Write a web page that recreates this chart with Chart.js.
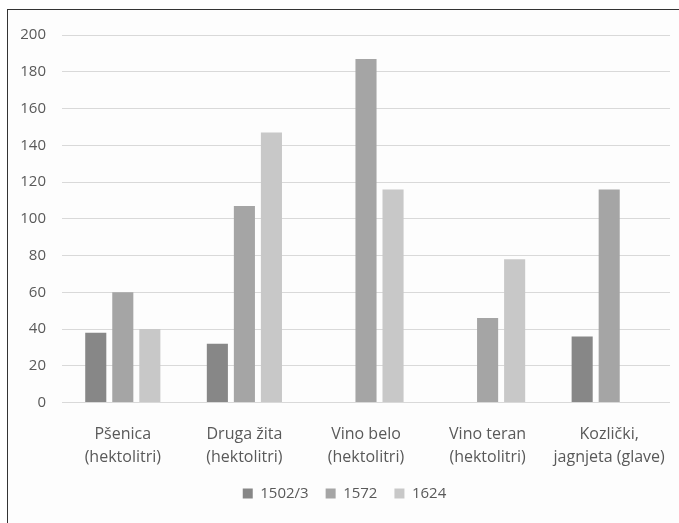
<!DOCTYPE html>
<html lang="hr">
<head>
<meta charset="UTF-8">
<title>Proizvodnja</title>
<style>
    body { margin: 0; background: #fff; }
    #frame {
        position: absolute;
        left: 7px;
        top: 9px;
        width: 672px;
        height: 514px;
        border-left: 1px solid #333;
        border-top: 1px solid #333;
        background: #fdfdfd;
    }
    #chart { display: block; }
</style>
</head>
<body>
<div id="frame">
    <canvas id="chart" width="672" height="514"></canvas>
</div>
<script src="https://cdn.jsdelivr.net/npm/chart.js@4.4.0/dist/chart.umd.min.js"></script>
<script>
const categories = [
    ["Pšenica", "(hektolitri)"],
    ["Druga žita", "(hektolitri)"],
    ["Vino belo", "(hektolitri)"],
    ["Vino teran", "(hektolitri)"],
    ["Kozlički,", "jagnjeta (glave)"]
];
const seriesNames = ["1502/3", "1572", "1624"];
const values1502 = [38, 32, null, null, 36];
const values1572 = [60, 107, 187, 46, 116];
const values1624 = [40, 147, 116, 78, null];
const colors = ["#878787", "#a5a5a5", "#c8c8c8"];
const yMax = 200;
const yStep = 20;

const font = { family: "'Open Sans', sans-serif", size: 15 };
const textColor = "#595959";

const ctx = document.getElementById("chart").getContext("2d");
new Chart(ctx, {
    type: "bar",
    data: {
        labels: categories,
        datasets: [values1502, values1572, values1624].map((vals, i) => ({
            label: seriesNames[i],
            data: vals,
            backgroundColor: colors[i],
            categoryPercentage: 0.667,
            barPercentage: 0.78
        }))
    },
    options: {
        responsive: false,
        animation: false,
        layout: { padding: { top: 24, right: 10, left: 11, bottom: 13 } },
        scales: {
            x: {
                grid: { display: false },
                border: { display: false },
                ticks: { color: textColor, font: { ...font, size: 16, lineHeight: 1.45 }, maxRotation: 0, padding: 12 },
                // legend padding also spaces the items apart, so take that back here
                afterFit: (scale) => { scale.height -= 12; }
            },
            y: {
                min: 0,
                max: yMax,
                ticks: { stepSize: yStep, color: textColor, font: font, padding: 16 },
                grid: { color: "#d9d9d9", lineWidth: 1, drawTicks: false },
                border: { display: false },
                afterFit: (scale) => { scale.width = 43; }
            }
        },
        plugins: {
            legend: {
                position: "bottom",
                labels: {
                    color: textColor,
                    font: font,
                    boxWidth: 10,
                    boxHeight: 10,
                    padding: 17
                }
            },
            tooltip: { enabled: false }
        }
    }
});
</script>
</body>
</html>
